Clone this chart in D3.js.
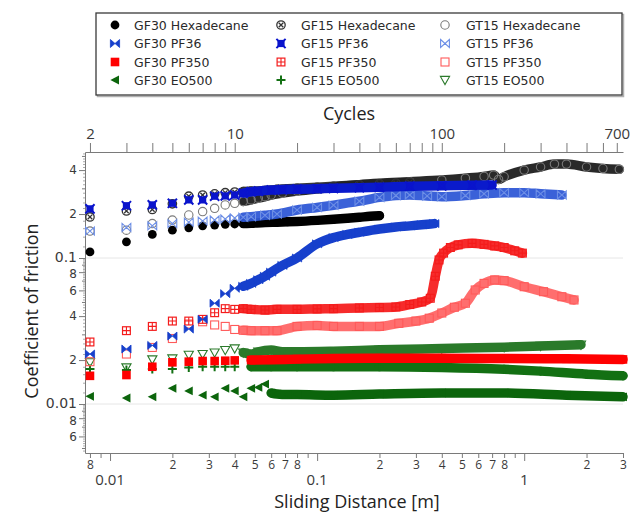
<!DOCTYPE html>
<html>
<head>
<meta charset="utf-8">
<script src="https://cdn.jsdelivr.net/npm/d3@7.9.0/dist/d3.min.js"></script>
<style>
  body { margin: 0; background: #fff; }
  svg { display: block; font-family: 'Open Sans', sans-serif; }
</style>
</head>
<body>
<svg id="chart" width="633" height="512"></svg>
<script>
// values as [cycle, coefficient of friction]
const gf30Hex = [[2,0.110],[3,0.129],[4,0.145],[5,0.155],[6,0.161],[7,0.166],[8,0.168],[9,0.170],[10,0.171],[11,0.172],[12,0.173],[14,0.175],[16,0.176],[18,0.177],[20,0.178],[25,0.181],[30,0.184],[35,0.187],[40,0.190],[45,0.193],[50,0.195]];
const gf15Hex = [[2,0.191],[3,0.21],[4,0.215],[5,0.235],[6,0.265],[7,0.27],[8,0.275],[9,0.28],[10,0.283],[11,0.285],[12,0.287],[14,0.29],[16,0.295],[18,0.298],[20,0.30],[25,0.305],[30,0.31],[40,0.317],[50,0.322],[60,0.326],[70,0.33]];
const gt15Hex = [[2,0.153],[3,0.155],[4,0.172],[5,0.182],[6,0.197],[7,0.208],[8,0.219],[9,0.231],[10,0.237],[11,0.244],[12,0.25],[13,0.257],[14,0.263],[15,0.27],[17,0.278],[20,0.287],[25,0.297],[30,0.306],[40,0.318],[50,0.325],[70,0.333],[100,0.342],[130,0.352],[160,0.362],[178,0.37],[188,0.345],[200,0.36],[250,0.4],[300,0.42],[350,0.44],[400,0.44],[500,0.42],[600,0.41],[720,0.405]];

const gf30Pf36 = [[2,0.022],[3,0.0238],[4,0.0252],[5,0.0292],[6,0.0326],[7,0.038],[8,0.049],[9,0.057],[10,0.062],[11,0.064],[12,0.067],[13,0.071],[14,0.075],[15,0.08],[17,0.089],[20,0.1],[25,0.125],[30,0.138],[35,0.145],[40,0.15],[50,0.158],[60,0.163],[70,0.166],[80,0.169],[92,0.172]];
const gf15Pf36 = [[2,0.217],[3,0.228],[4,0.231],[5,0.237],[6,0.25],[7,0.25],[8,0.265],[9,0.266],[10,0.27],[11,0.278],[12,0.284],[13,0.287],[15,0.292],[17,0.294],[20,0.296],[25,0.298],[30,0.30],[40,0.303],[50,0.305],[70,0.31],[100,0.312],[140,0.315],[175,0.316]];
const gt15Pf36 = [[2,0.153],[3,0.162],[4,0.166],[5,0.172],[6,0.176],[7,0.179],[8,0.182],[9,0.185],[10,0.188],[11,0.19],[12,0.192],[14,0.196],[16,0.2],[20,0.213],[25,0.222],[30,0.23],[40,0.245],[50,0.26],[60,0.268],[70,0.27],[85,0.266],[100,0.263],[130,0.268],[160,0.275],[200,0.28],[250,0.28],[300,0.275],[380,0.27]];

const gf30Pf350 = [[2,0.0156],[3,0.0158],[4,0.018],[5,0.0193],[6,0.0195],[7,0.0197],[8,0.0197],[9,0.0198],[10,0.0199],[12,0.02],[15,0.0201],[20,0.0203],[30,0.0205],[50,0.0206],[100,0.0206],[200,0.0205],[400,0.0204],[750,0.0202]];
const gf15Pf350 = [[2,0.0266],[3,0.0318],[4,0.034],[5,0.037],[6,0.037],[7,0.038],[8,0.0422],[9,0.045],[10,0.0445],[11,0.045],[12,0.0445],[14,0.044],[16,0.0445],[20,0.0445],[25,0.0448],[30,0.045],[40,0.0455],[50,0.0458],[60,0.0462],[70,0.048],[80,0.05],[88,0.053],[93,0.075],[97,0.097],[102,0.108],[110,0.118],[120,0.123],[140,0.126],[160,0.124],[180,0.121],[200,0.118],[225,0.112],[245,0.108]];
const gt15Pf350 = [[2,0.0195],[3,0.022],[4,0.0244],[5,0.0281],[6,0.0353],[7,0.0366],[8,0.0348],[9,0.034],[10,0.0324],[11,0.032],[12,0.0318],[14,0.0318],[16,0.0318],[20,0.034],[25,0.0345],[30,0.034],[40,0.034],[50,0.034],[62,0.0357],[75,0.037],[87,0.0387],[100,0.042],[115,0.046],[130,0.049],[145,0.0604],[160,0.067],[180,0.0707],[200,0.07],[250,0.0636],[310,0.0588],[380,0.0543],[435,0.0516]];

const gf30Eo500 = [[2,0.0113],[3,0.011],[4,0.0112],[5,0.0128],[6,0.0123],[7,0.0115],[8,0.0112],[9,0.0128],[10,0.0123],[11,0.0112],[12,0.0128],[13,0.013],[14,0.0137],[15,0.0119],[16,0.0117],[18,0.0116],[20,0.0116],[30,0.0115],[50,0.0117],[100,0.0119],[200,0.0119],[400,0.0115],[750,0.0112]];
const gf15Eo500 = [[2,0.0174],[3,0.0171],[4,0.0174],[5,0.0174],[6,0.0178],[7,0.018],[8,0.018],[9,0.018],[10,0.018],[12,0.018],[15,0.018],[20,0.018],[30,0.018],[50,0.018],[100,0.0178],[200,0.0173],[300,0.0168],[500,0.016],[750,0.0156]];
const gt15Eo500 = [[2,0.0193],[3,0.0178],[4,0.0202],[5,0.0205],[6,0.0217],[7,0.022],[8,0.0225],[9,0.0234],[10,0.024],[11,0.0225],[12,0.022],[13,0.0228],[15,0.0234],[17,0.0228],[20,0.0228],[30,0.023],[50,0.0235],[100,0.024],[200,0.0245],[300,0.025],[470,0.0255]];

const legendNames = [
  ['GF30 Hexadecane', 'GF15 Hexadecane', 'GT15 Hexadecane'],
  ['GF30 PF36', 'GF15 PF36', 'GT15 PF36'],
  ['GF30 PF350', 'GF15 PF350', 'GT15 PF350'],
  ['GF30 EO500', 'GF15 EO500', 'GT15 EO500']
];

const cycleTicks = [2,3,4,5,6,7,8,9,10,20,30,40,50,60,70,80,90,100,200,300,400,500,600,700];
const cycleLabels = [2, 10, 100, 700];
const distTicks = [0.008,0.009,0.01,0.02,0.03,0.04,0.05,0.06,0.07,0.08,0.09,0.1,0.2,0.3,0.4,0.5,0.6,0.7,0.8,0.9,1,2,3];
const distMajor = [0.01, 0.1, 1];
const muTicks = [0.005,0.006,0.007,0.008,0.009,0.01,0.02,0.03,0.04,0.05,0.06,0.07,0.08,0.09,0.1,0.2,0.3,0.4,0.5];
const muLabels = [0.006,0.008,0.01,0.02,0.04,0.06,0.08,0.1,0.2,0.4];

const metresPerCycle = 0.004;

const series = [
  { name: 'GT15 EO500', data: gt15Eo500, type: 'triDown', color: '#2b7a2b', band: '#2a7a2a', opacity: 1 },
  { name: 'GF15 EO500', data: gf15Eo500, type: 'plus', color: '#137013', band: '#137013', opacity: 1 },
  { name: 'GF30 EO500', data: gf30Eo500, type: 'triLeft', color: '#0c650c', band: '#0c650c', opacity: 1, from: 15 },
  { name: 'GT15 PF350', data: gt15Pf350, type: 'squareOpen', color: '#ff5a5a', band: '#ff4a4a', opacity: 0.8 },
  { name: 'GF15 PF350', data: gf15Pf350, type: 'squarePlus', color: '#f41c1c', band: '#f52020', opacity: 0.95 },
  { name: 'GF30 PF350', data: gf30Pf350, type: 'square', color: '#ff0000', band: '#ff0000', opacity: 1 },
  { name: 'GT15 Hexadecane', data: gt15Hex, type: 'circle', color: '#7a7a7a', band: '#1e1e1e', opacity: 0.95 },
  { name: 'GF15 Hexadecane', data: gf15Hex, type: 'circleX', color: '#333333', band: '#222222', opacity: 0.9 },
  { name: 'GF30 Hexadecane', data: gf30Hex, type: 'dot', color: '#000000', band: '#000000', opacity: 1 },
  { name: 'GT15 PF36', data: gt15Pf36, type: 'bowtieOpen', color: '#6d8fe6', band: '#2f58d6', opacity: 0.95 },
  { name: 'GF30 PF36', data: gf30Pf36, type: 'bowtie', color: '#1740cc', band: '#1740cc', opacity: 1 },
  { name: 'GF15 PF36', data: gf15Pf36, type: 'squareX', color: '#0a14cc', band: '#0a1acc', opacity: 1 }
];

const svg = d3.select('#chart');
const plotLeft = 85, plotRight = 623, plotTop = 152, plotBottom = 453;

const xDist = d3.scaleLog().domain([0.00757, 3]).range([plotLeft, plotRight]);
const xCyc = d3.scaleLog().domain([0.00757 / metresPerCycle, 3 / metresPerCycle]).range([plotLeft, plotRight]);
const y = d3.scaleLog().domain([0.00462, 0.532]).range([plotBottom, plotTop]);

const axisColor = '#7a7a7a';
const textColor = '#3a3a3a';

function drawMarker(g, type, color) {
  switch (type) {
    case 'dot':
      g.append('circle').attr('r', 4.4).attr('fill', color);
      break;
    case 'circle':
      g.append('circle').attr('r', 4.2).attr('fill', 'none').attr('stroke', color).attr('stroke-width', 1.1);
      break;
    case 'circleX':
      g.append('circle').attr('r', 4.2).attr('fill', 'none').attr('stroke', color).attr('stroke-width', 1.3);
      g.append('path').attr('d', 'M-2.3,-2.3L2.3,2.3M-2.3,2.3L2.3,-2.3').attr('stroke', color).attr('stroke-width', 1.3);
      break;
    case 'bowtie':
      g.append('path').attr('d', 'M-4.6,-4L0,0L-4.6,4ZM4.6,-4L0,0L4.6,4Z').attr('fill', color)
        .attr('stroke', color).attr('stroke-width', 0.8);
      break;
    case 'bowtieOpen':
      g.append('path').attr('d', 'M-4.4,-4L0,0L-4.4,4ZM4.4,-4L0,0L4.4,4Z').attr('fill', 'none')
        .attr('stroke', color).attr('stroke-width', 1.1);
      break;
    case 'squareX':
      g.append('rect').attr('x', -3.6).attr('y', -3.6).attr('width', 7.2).attr('height', 7.2).attr('fill', color);
      g.append('path').attr('d', 'M-4.6,-4.6L4.6,4.6M-4.6,4.6L4.6,-4.6').attr('stroke', color).attr('stroke-width', 2);
      break;
    case 'square':
      g.append('rect').attr('x', -4.3).attr('y', -4.3).attr('width', 8.6).attr('height', 8.6).attr('fill', color);
      break;
    case 'squarePlus':
      g.append('rect').attr('x', -3.9).attr('y', -3.9).attr('width', 7.8).attr('height', 7.8)
        .attr('fill', 'none').attr('stroke', color).attr('stroke-width', 1.2);
      g.append('path').attr('d', 'M-3.9,0H3.9M0,-3.9V3.9').attr('stroke', color).attr('stroke-width', 1.1);
      break;
    case 'squareOpen':
      g.append('rect').attr('x', -4).attr('y', -4).attr('width', 8).attr('height', 8)
        .attr('fill', 'none').attr('stroke', color).attr('stroke-width', 1.1);
      break;
    case 'triLeft':
      g.append('path').attr('d', 'M-4.6,0L4,-4.4L4,4.4Z').attr('fill', color);
      break;
    case 'plus':
      g.append('path').attr('d', 'M-4.5,0H4.5M0,-4.5V4.5').attr('stroke', color).attr('stroke-width', 2);
      break;
    case 'triDown':
      g.append('path').attr('d', 'M-4.6,-3.6L4.6,-3.6L0,4.6Z').attr('fill', 'none')
        .attr('stroke', color).attr('stroke-width', 1.1);
      break;
  }
}

// faint grid lines at the decades
svg.append('g')
  .selectAll('line')
  .data([0.01, 0.1])
  .join('line')
  .attr('x1', plotLeft).attr('x2', plotRight)
  .attr('y1', d => y(d)).attr('y2', d => y(d))
  .attr('stroke', '#e6e6e6').attr('stroke-width', 1);

// bottom axis: distance
const bottomAxis = svg.append('g')
  .attr('transform', `translate(0,${plotBottom})`)
  .call(d3.axisBottom(xDist).tickValues(distTicks).tickSize(5).tickSizeOuter(0)
    .tickFormat(d => {
      if (distMajor.includes(d)) return '';
      const m = Math.round(d / Math.pow(10, Math.floor(Math.log10(d) + 1e-9)));
      return m === 9 ? '' : m;
    }));
bottomAxis.selectAll('.tick line').filter(d => distMajor.includes(d)).attr('y2', 8);
bottomAxis.selectAll('text').attr('font-size', 12).attr('dy', '0.75em').attr('y', 7);
bottomAxis.selectAll('line, path').attr('stroke', axisColor);
bottomAxis.selectAll('text').attr('fill', textColor).attr('font-family', 'Open Sans');

svg.append('g')
  .selectAll('text')
  .data(distMajor)
  .join('text')
  .attr('x', d => xDist(d))
  .attr('y', 485)
  .attr('text-anchor', 'middle')
  .attr('font-size', 15)
  .attr('fill', textColor)
  .text(d => d);

// top axis: cycles
const topAxis = svg.append('g')
  .attr('transform', `translate(0,${plotTop})`)
  .call(d3.axisTop(xCyc).tickValues(cycleTicks).tickSize(9).tickSizeOuter(0)
    .tickFormat(d => cycleLabels.includes(d) ? d : ''));
topAxis.selectAll('line, path').attr('stroke', axisColor);
topAxis.selectAll('text').attr('font-size', 15).attr('fill', textColor).attr('font-family', 'Open Sans').attr('y', -13);

// left axis: coefficient of friction
const fineTicks = [];
[0.001, 0.01, 0.1].forEach(dec => {
  for (let m = 1.2; m < 10; m += 0.2) {
    const v = +(m * dec).toPrecision(3);
    if (Math.abs(m - Math.round(m)) > 0.01 && v > 0.00462 && v < 0.532) fineTicks.push(v);
  }
});
svg.append('g')
  .attr('transform', `translate(${plotLeft},0)`)
  .call(d3.axisLeft(y).tickValues(fineTicks).tickSize(2).tickFormat(''))
  .call(g => g.select('.domain').remove())
  .selectAll('line').attr('stroke', '#aaaaaa');

const isDecade = d => d === 0.1 || d === 0.01;
const leftAxis = svg.append('g')
  .attr('transform', `translate(${plotLeft},0)`)
  .call(d3.axisLeft(y).tickValues(muTicks).tickSize(3).tickSizeOuter(0)
    .tickFormat(d => {
      if (!muLabels.includes(d)) return '';
      if (isDecade(d)) return d;
      return Math.round(d / Math.pow(10, Math.floor(Math.log10(d) + 1e-9)));
    }));
leftAxis.selectAll('.tick line').filter(d => muLabels.includes(d)).attr('x2', -6);
leftAxis.selectAll('line, path').attr('stroke', axisColor);
leftAxis.selectAll('text')
  .attr('x', -8)
  .attr('y', d => isDecade(d) ? -1 : (d === 0.08 || d === 0.008) ? 2 : 0)
  .attr('fill', textColor)
  .attr('font-family', 'DejaVu Sans')
  .attr('font-size', d => isDecade(d) ? 14 : 12);

// axis titles
svg.append('text')
  .attr('x', 349).attr('y', 120)
  .attr('text-anchor', 'middle')
  .attr('font-size', 18)
  .attr('fill', '#222')
  .text('Cycles');

svg.append('text')
  .attr('x', 357).attr('y', 508)
  .attr('text-anchor', 'middle')
  .attr('font-size', 18)
  .attr('fill', '#222')
  .text('Sliding Distance [m]');

svg.append('text')
  .attr('transform', 'translate(38,311) rotate(-90)')
  .attr('text-anchor', 'middle')
  .attr('font-size', 18)
  .attr('fill', '#222')
  .text('Coefficient of friction');

// data: dense part drawn as a band, then the markers on top
const band = d3.line()
  .x(d => xCyc(d[0]))
  .y(d => y(d[1]))
  .curve(d3.curveMonotoneX);

const plot = svg.append('g');
series.forEach(s => {
  const g = plot.append('g');
  const start = s.from || 11;
  const dense = s.data.filter(d => d[0] >= start);
  g.append('path')
    .datum(dense)
    .attr('d', band)
    .attr('fill', 'none')
    .attr('stroke', s.band)
    .attr('stroke-opacity', s.opacity)
    .attr('stroke-width', 9.5)
    .attr('stroke-linecap', 'round')
    .attr('stroke-linejoin', 'round');
  g.selectAll('g.pt')
    .data(s.data)
    .join('g')
    .attr('class', 'pt')
    .attr('transform', d => `translate(${xCyc(d[0])},${y(d[1])})`)
    .each(function() { drawMarker(d3.select(this), s.type, s.color); });
});

// legend
const legend = svg.append('g');
legend.append('rect')
  .attr('x', 97.5).attr('y', 14.5).attr('width', 526).attr('height', 82)
  .attr('fill', 'none').attr('stroke', '#b0b0b0').attr('stroke-width', 1.5);
legend.append('rect')
  .attr('x', 96).attr('y', 13).attr('width', 526).attr('height', 82)
  .attr('fill', '#fff').attr('stroke', '#3a3a3a').attr('stroke-width', 1.3);

const colX = [{ mark: 115, text: 134 }, { mark: 281, text: 301 }, { mark: 445, text: 466 }];
const rowY = [25, 43.5, 62, 80];
const byName = new Map(series.map(s => [s.name, s]));

legendNames.forEach((row, r) => {
  row.forEach((name, c) => {
    const s = byName.get(name);
    drawMarker(legend.append('g').attr('transform', `translate(${colX[c].mark},${rowY[r]})`), s.type, s.color);
    legend.append('text')
      .attr('x', colX[c].text)
      .attr('y', rowY[r])
      .attr('dy', '0.36em')
      .attr('font-family', 'DejaVu Sans')
      .attr('font-size', 12.5)
      .attr('fill', '#2a2a2a')
      .text(name);
  });
});
</script>
</body>
</html>
